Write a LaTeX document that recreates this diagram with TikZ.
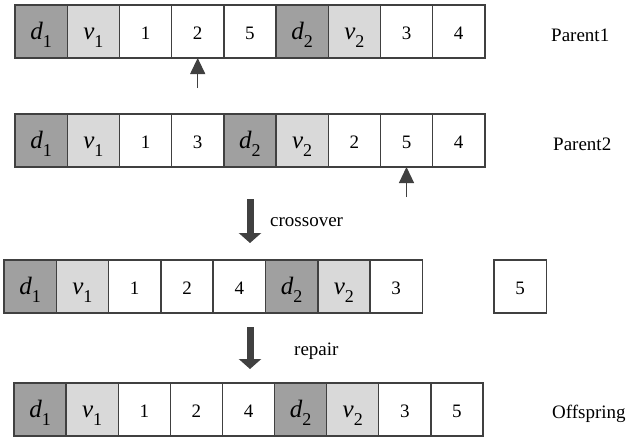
\documentclass[tikz,border=0pt]{standalone}
\usepackage{fontspec}
\setmainfont{Liberation Serif}
\newfontfamily\tmsfont{Liberation Serif}
\usetikzlibrary{arrows.meta}
\definecolor{edgec}{HTML}{404040}
\definecolor{dgray}{HTML}{A0A0A0}
\definecolor{lgray}{HTML}{D9D9D9}
\definecolor{arrowc}{HTML}{404040}
\newcommand{\gsym}[2]{{\tmsfont\fontsize{25}{25}\selectfont\itshape #1}\raisebox{-8pt}{\tmsfont\fontsize{18}{18}\selectfont #2}}
\begin{document}
\begin{tikzpicture}[x=1pt,y=-1pt,
  cell/.style={draw=edgec, line width=1.4pt, minimum width=52.2pt, minimum height=53pt,
    inner sep=0pt, outer sep=0pt, anchor=north west, text height=16pt, text depth=0pt,
    font=\tmsfont\fontsize{19}{19}\selectfont},
  lbl/.style={anchor=base west, inner sep=0pt, font=\tmsfont\fontsize{19}{19}\selectfont},
  ptr/.style={draw=edgec, line width=1.2pt, -{Triangle[width=15pt,length=16pt]}},
  bigarrow/.style={draw=arrowc, line width=7pt, -{Triangle[width=22pt,length=10pt]}}]
\useasboundingbox[fill=white] (0,0) rectangle (628,437);

% Row 1: Parent1
\foreach \f/\t [count=\i] in {dgray/\gsym{d}{1}, lgray/\gsym{v}{1}, white/1, white/2, white/5,
    dgray/\gsym{d}{2}, lgray/\gsym{v}{2}, white/3, white/4}
  \node[cell, fill=\f] (r1c\i) at ({15+(\i-1)*52.2},5) {\t};

% Row 2: Parent2
\foreach \f/\t [count=\i] in {dgray/\gsym{d}{1}, lgray/\gsym{v}{1}, white/1, white/3,
    dgray/\gsym{d}{2}, lgray/\gsym{v}{2}, white/2, white/5, white/4}
  \node[cell, fill=\f] (r2c\i) at ({15+(\i-1)*52.2},114) {\t};

% Row 3: after crossover
\foreach \f/\t [count=\i] in {dgray/\gsym{d}{1}, lgray/\gsym{v}{1}, white/1, white/2, white/4,
    dgray/\gsym{d}{2}, lgray/\gsym{v}{2}, white/3}
  \node[cell, fill=\f] (r3c\i) at ({4+(\i-1)*52.3},260) {\t};
\node[cell, fill=white] (r3x) at (494,260) {5};

% Row 4: Offspring
\foreach \f/\t [count=\i] in {dgray/\gsym{d}{1}, lgray/\gsym{v}{1}, white/1, white/2, white/4,
    dgray/\gsym{d}{2}, lgray/\gsym{v}{2}, white/3, white/5}
  \node[cell, fill=\f] (r4c\i) at ({14+(\i-1)*52.1},383) {\t};

% labels
\node[lbl] (lp1) at (551,41) {Parent1};
\node[lbl] (lp2) at (553,150) {Parent2};
\node[lbl] (lcx) at (270,226) {crossover};
\node[lbl] (lrp) at (294,355) {repair};
\node[lbl] (lof) at (552,418) {Offspring};

% crossover points
\coordinate (t1) at ([yshift=-30pt]r1c4.south);
\draw[ptr] (t1) -- (r1c4.south);
\coordinate (t2) at ([yshift=-30pt]r2c8.south);
\draw[ptr] (t2) -- (r2c8.south);

% big arrows
\coordinate (c1s) at (250,199);
\coordinate (c1e) at (250,243);
\draw[bigarrow] (c1s) -- (c1e);
\coordinate (c2s) at (250,327);
\coordinate (c2e) at (250,369);
\draw[bigarrow] (c2s) -- (c2e);
\end{tikzpicture}
\end{document}
